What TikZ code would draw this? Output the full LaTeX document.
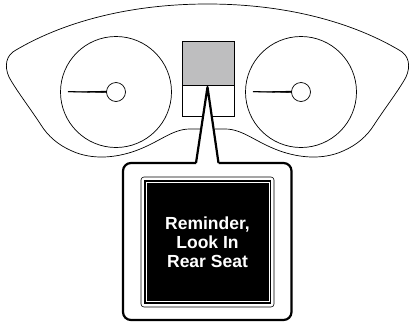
\documentclass[tikz,border=0pt]{standalone}
\usepackage{fontspec}
\setmainfont{Liberation Sans}
\definecolor{panelgrey}{RGB}{190,190,191}
\tikzset{
  thinline/.style={draw=black,line width=0.7pt},
  gauge/.style={circle,draw=black,line width=0.7pt,fill=white,inner sep=0pt,minimum size=#1},
  wedgeline/.style={draw=black,line width=2.2pt,line join=round},
  needle/.style={fill=black,draw=black,line width=0.3pt},
}
\begin{document}
\begin{tikzpicture}[x=1pt,y=-1pt]
\useasboundingbox (0,0) rectangle (410,322);
% cluster outline
\draw[thinline] (200,129) -- (190,129) .. controls (172,129) and (160,142) .. (135,151)
  .. controls (115,158) and (92,160) .. (72,151)
  .. controls (58,145) and (48,136) .. (41,125)
  .. controls (30,108) and (16,90) .. (9,77)
  .. controls (4,66) and (6,55) .. (16,50)
  .. controls (60,24) and (125,4) .. (207.5,4)
  .. controls (290,4) and (355,24) .. (399,50)
  .. controls (409,55) and (411,66) .. (406,77)
  .. controls (399,90) and (385,108) .. (374,125)
  .. controls (367,136) and (357,145) .. (343,151)
  .. controls (323,160) and (300,158) .. (280,151)
  .. controls (255,142) and (243,129) .. (225,129) -- (215,129);
% gauges
\node[gauge=111pt] (gaugeL) at (116,92) {};
\node[gauge=111pt] (gaugeR) at (301,92) {};
\coordinate (needleLtip) at (68,92);
\coordinate (needleRtip) at (253,92);
\node[gauge=19pt] (hubL) at (116,92) {};
\node[gauge=19pt] (hubR) at (301,92) {};
\fill[needle] (needleLtip) -- ++(0,-0.6) -- ++(38.5,-0.3) -- ++(0,1.6) -- cycle;
\fill[needle] (needleRtip) -- ++(0,-0.6) -- ++(38.5,-0.3) -- ++(0,1.6) -- cycle;
% centre display
\filldraw[fill=panelgrey,draw=black,line width=0.7pt] (182.5,41.7) rectangle (234.7,85.3);
\draw[thinline] (182.5,85.3) rectangle (234.7,116.3);
% callout
\filldraw[wedgeline,fill=white,rounded corners=8pt] (196,163) -- (123,163) -- (123,320) -- (291.5,320) -- (291.5,163) -- (218.5,163);
\fill[white] (196.9,164.5) -- (207.5,88) -- (217.7,164.5) -- cycle;
\draw[wedgeline] (196,163) -- (207.5,87) -- (218.5,163);
% sign
\draw[black,line width=0.6pt,rounded corners=3pt] (141,177) rectangle (274,307);
\node[fill=black,draw=black,line width=0.4pt,minimum width=126pt,minimum height=123pt,inner sep=0pt,
  text=white,align=center,font=\bfseries\fontsize{17.5}{19}\selectfont] (sign) at (207.5,242) {Reminder,\\Look In\\Rear Seat};
\draw[white,line width=0.6pt] (146,182.5) rectangle (269,301.5);
\end{tikzpicture}
\end{document}
